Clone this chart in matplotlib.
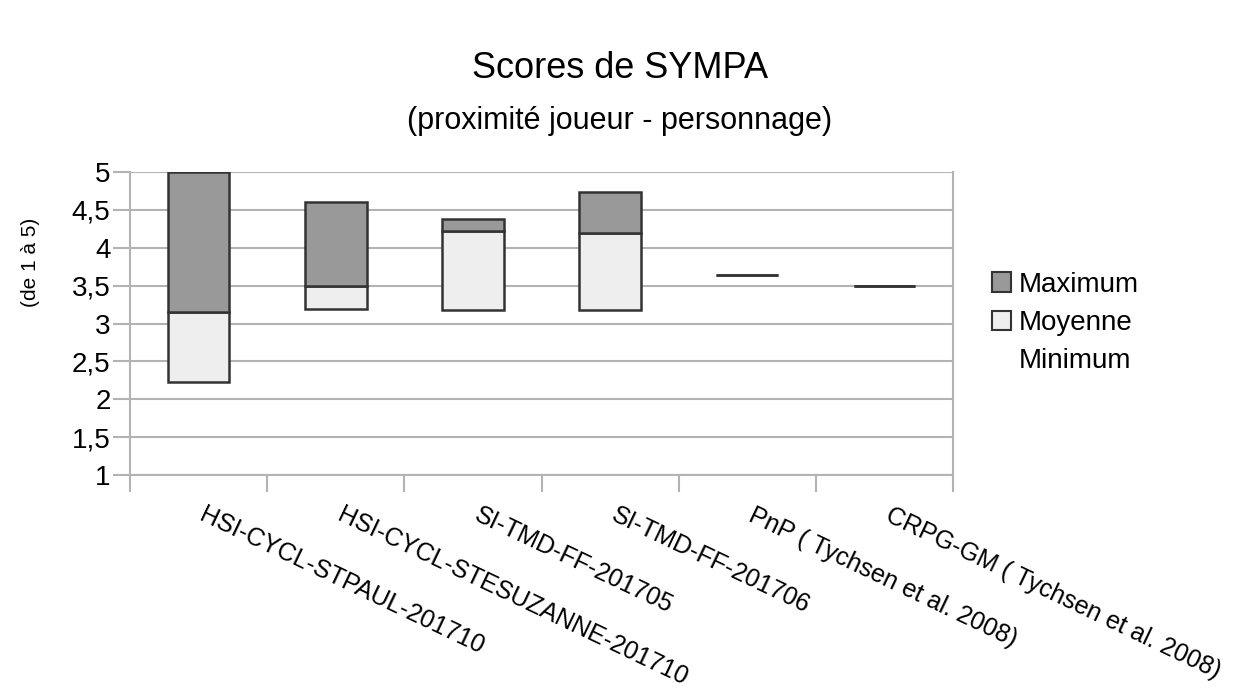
import matplotlib
matplotlib.use("Agg")
import matplotlib.pyplot as plt
from matplotlib.patches import Patch
import matplotlib.transforms as mtransforms
import numpy as np

categories = ["HSI-CYCL-STPAUL-201710", "HSI-CYCL-STESUZANNE-201710",
              "SI-TMD-FF-201705", "SI-TMD-FF-201706",
              "PnP ( Tychsen et al. 2008)", "CRPG-GM ( Tychsen et al. 2008)"]
minimum = [2.23, 3.19, 3.18, 3.18, 3.64, 3.49]
moyenne = [3.15, 3.49, 4.22, 4.19, 3.64, 3.49]
maximum = [5.00, 4.61, 4.38, 4.74, 3.64, 3.49]
yticks = [1, 1.5, 2, 2.5, 3, 3.5, 4, 4.5, 5]
ytick_labels = ["1", "1,5", "2", "2,5", "3", "3,5", "4", "4,5", "5"]

plt.rcParams['font.family'] = ['Liberation Sans', 'DejaVu Sans']

fig = plt.figure(figsize=(12.52, 6.97), dpi=100)
ax = fig.add_axes([130/1252, 1-475/697, (953-130)/1252, (475-172)/697])

x = np.arange(len(categories))
mn = np.array(minimum); me = np.array(moyenne); mx = np.array(maximum)
w = 0.45
ec = "#333333"
ax.bar(x, mn, bottom=0, width=w, color="none", edgecolor="none", zorder=2)
ax.bar(x, me - mn, bottom=mn, width=w, color="#eeeeee", edgecolor=ec, linewidth=1.8, zorder=3)
ax.bar(x, mx - me, bottom=me, width=w, color="#999999", edgecolor=ec, linewidth=1.8, zorder=3)

ax.set_xlim(-0.5, len(categories) - 0.5)
ax.set_ylim(1, 5)
ax.set_yticks(yticks)
ax.set_yticklabels(ytick_labels, fontsize=20)
ax.yaxis.grid(True, color="#b3b3b3", linewidth=1.5, zorder=0)
ax.set_axisbelow(True)

ax.set_xticks(np.arange(len(categories) + 1) - 0.5)
ax.set_xticklabels([])
ax.tick_params(axis='x', which='major', length=12, width=1.5, color="#b3b3b3")
ax.tick_params(axis='y', length=12, width=1.5, color="#b3b3b3", pad=2)

offset = mtransforms.ScaledTranslation(8/100, -28/100, fig.dpi_scale_trans)
trans = ax.get_xaxis_transform() + offset
for xi, lab in zip(x, categories):
    ax.text(xi, 0, lab, transform=trans, rotation=-25.5, ha='left', va='top',
            rotation_mode='anchor', fontsize=18, clip_on=False)

ax.spines['top'].set_visible(False)
for s in ['left', 'bottom', 'right']:
    ax.spines[s].set_color("#b3b3b3")
    ax.spines[s].set_linewidth(1.5)

fig.text(620/1252, 1 - 68/697, "Scores de SYMPA", ha='center', va='center', fontsize=26)
fig.text(620/1252, 1 - 121/697, "(proximité joueur - personnage)", ha='center', va='center', fontsize=22)
fig.text(31/1252, 1 - 262/697, "(de 1 à 5)", rotation=90, ha='center', va='center', fontsize=15)

handles = [Patch(facecolor="#999999", edgecolor=ec, linewidth=1.5),
           Patch(facecolor="#eeeeee", edgecolor=ec, linewidth=1.5),
           Patch(facecolor="none", edgecolor="none")]
fig.legend(handles, ["Maximum", "Moyenne", "Minimum"], loc='center left',
           bbox_to_anchor=(992/1252, 1 - 323/697), frameon=False, fontsize=20,
           handlelength=0.7, handleheight=0.7, handletextpad=0.25, labelspacing=0.45,
           borderaxespad=0, borderpad=0)

fig.savefig("out.png", dpi=100)
